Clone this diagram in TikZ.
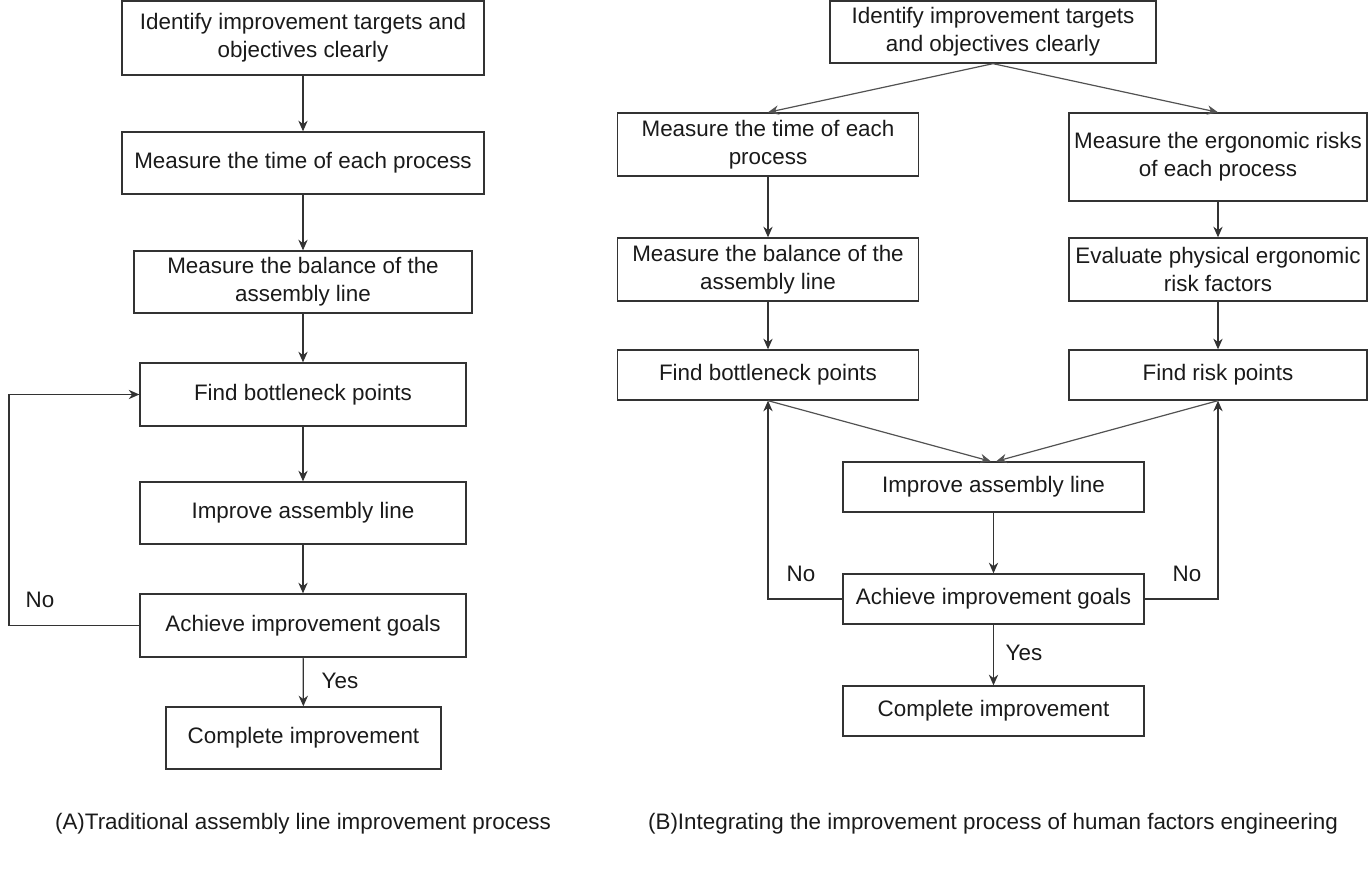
\documentclass[tikz,border=0pt]{standalone}
\usepackage{fontspec}
\setmainfont{Liberation Sans}
\usetikzlibrary{arrows.meta}
\definecolor{ln}{HTML}{333333}
\definecolor{tx}{HTML}{1A1A1A}
\tikzset{
  box/.style={draw=ln, line width=1pt, rectangle, inner sep=0pt, align=center, text=tx,
    font=\fontsize{16.8}{21}\selectfont},
  sz/.style 2 args={minimum width=0.75pt*#1, minimum height=0.75pt*#2},
  lbl/.style={inner sep=0pt, text=tx, font=\fontsize{16.8}{21}\selectfont},
  arr/.style={draw=ln, line width=0.9pt, -{Stealth[length=8pt,width=7pt]}},
  diag/.style={draw=ln!85, line width=0.9pt, -{Stealth[length=8pt,width=7pt]}}
}
\begin{document}
\begin{tikzpicture}[x=0.75pt,y=-0.75pt]
\useasboundingbox (0,0) rectangle (1368,877);
% Left panel
\node[box, sz={362}{74}] (L1) at (303,38) {Identify improvement targets and\\objectives clearly};
\node[box, sz={362}{62}] (L2) at (303,163) {Measure the time of each process};
\node[box, sz={338}{62}] (L3) at (303,282) {Measure the balance of the\\assembly line};
\node[box, sz={326}{63}] (L4) at (303,394.5) {Find bottleneck points};
\node[box, sz={326}{62}] (L5) at (303,513) {Improve assembly line};
\node[box, sz={326}{63}] (L6) at (303,625.5) {Achieve improvement goals};
\node[box, sz={275}{62}] (L7) at (303.5,738) {Complete improvement};
\coordinate (lx) at (9,0);
\draw[arr] (L1) -- (L2);
\draw[arr] (L2) -- (L3);
\draw[arr] (L3) -- (L4);
\draw[arr] (L4) -- (L5);
\draw[arr] (L5) -- (L6);
\draw[arr] (L6) -- (L7);
\draw[arr] (L6.west) -- (L6.west -| lx) -- (L4.west -| lx) -- (L4.west);
\node[lbl] (noA) at (40,600) {No};
\node[lbl] (yesA) at (340,681) {Yes};
\node[lbl] (capA) at (303,824) {(A)Traditional assembly line improvement process};
% Right panel
\node[box, sz={326}{62}] (R1) at (993,32) {Identify improvement targets\\and objectives clearly};
\node[box, sz={301}{63}] (R2L) at (768,144.5) {Measure the time of each\\process};
\node[box, sz={298}{88}] (R2R) at (1218,157) {Measure the ergonomic risks\\of each process};
\node[box, sz={301}{63}] (R3L) at (768,269.5) {Measure the balance of the\\assembly line};
\node[box, sz={298}{63}] (R3R) at (1218,269.5) {Evaluate physical ergonomic\\risk factors};
\node[box, sz={301}{50}] (R4L) at (768,375) {Find bottleneck points};
\node[box, sz={298}{50}] (R4R) at (1218,375) {Find risk points};
\node[box, sz={301}{50}] (R5) at (993.5,487) {Improve assembly line};
\node[box, sz={301}{50}] (R6) at (993.5,599) {Achieve improvement goals};
\node[box, sz={301}{50}] (R7) at (993.5,711) {Complete improvement};
\draw[diag] (R1.south) -- (R2L.north);
\draw[diag] (R1.south) -- (R2R.north);
\draw[arr] (R2L) -- (R3L);
\draw[arr] (R2R) -- (R3R);
\draw[arr] (R3L) -- (R4L);
\draw[arr] (R3R) -- (R4R);
\draw[diag] (R4L.south) -- ([xshift=-2pt]R5.north);
\draw[diag] (R4R.south) -- ([xshift=2pt]R5.north);
\draw[arr] (R5) -- (R6);
\draw[arr] (R6) -- (R7);
\draw[arr] (R6.west) -| (R4L.south);
\draw[arr] (R6.east) -| (R4R.south);
\node[lbl] (noB1) at (801,574) {No};
\node[lbl] (noB2) at (1187,574) {No};
\node[lbl] (yesB) at (1024,653) {Yes};
\node[lbl] (capB) at (993,824) {(B)Integrating the improvement process of human factors engineering};
\end{tikzpicture}
\end{document}
